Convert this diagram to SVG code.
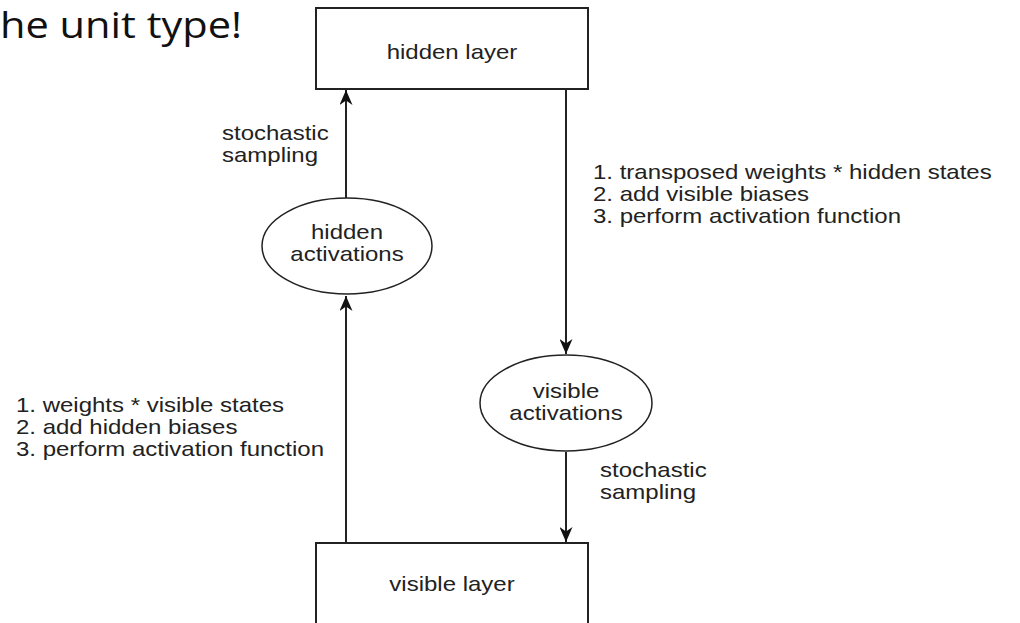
<svg xmlns="http://www.w3.org/2000/svg" width="1020" height="623" viewBox="0 0 1020 623">
<style>
.box{fill:#fff;stroke:#222;stroke-width:2}
.ell{fill:#fff;stroke:#222;stroke-width:1.5}
.lbl{font-family:"Liberation Sans",Arial,sans-serif;font-size:20px;fill:#222}
.c{text-anchor:middle}
.edge{stroke:#222;stroke-width:2;fill:none}
</style>
<defs>
<marker id="arr" viewBox="0 0 15 13" refX="15" refY="6.5" markerWidth="15" markerHeight="13" markerUnits="userSpaceOnUse" orient="auto">
<path d="M0,0 L15,6.5 L0,13 L4.5,6.5 Z" fill="#111"/>
</marker>
</defs>
<rect width="1020" height="623" fill="#fff"/>
<text x="0" y="38" textLength="242" lengthAdjust="spacingAndGlyphs" style="font-family:'Open Sans','Liberation Sans',sans-serif;font-size:37px;fill:#111">he unit type!</text>
<g id="connectors">
<line class="edge" x1="346" y1="198" x2="346" y2="90" marker-end="url(#arr)"/>
<line class="edge" x1="346" y1="543" x2="346" y2="296" marker-end="url(#arr)"/>
<line class="edge" x1="566" y1="89" x2="566" y2="354" marker-end="url(#arr)"/>
<line class="edge" x1="566" y1="452" x2="566" y2="542" marker-end="url(#arr)"/>
</g>
<g id="hidden-layer">
<rect class="box" x="316" y="8" width="272" height="81"/>
<text class="lbl c" transform="translate(452,59) scale(1.2,1)">hidden layer</text>
</g>
<g id="hidden-activations">
<ellipse class="ell" cx="347" cy="246" rx="85" ry="48"/>
<text class="lbl c" transform="translate(347,239) scale(1.2,1)">hidden</text>
<text class="lbl c" transform="translate(347,261) scale(1.2,1)">activations</text>
</g>
<g id="visible-activations">
<ellipse class="ell" cx="566" cy="403" rx="86" ry="48"/>
<text class="lbl c" transform="translate(566,398) scale(1.2,1)">visible</text>
<text class="lbl c" transform="translate(566,420) scale(1.2,1)">activations</text>
</g>
<g id="visible-layer">
<rect class="box" x="316" y="543" width="272" height="90"/>
<text class="lbl c" transform="translate(452,591) scale(1.2,1)">visible layer</text>
</g>
<g id="labels">
<text class="lbl" transform="translate(222,140) scale(1.2,1)">stochastic</text>
<text class="lbl" transform="translate(222,162) scale(1.2,1)">sampling</text>
<text class="lbl" transform="translate(593,179) scale(1.2,1)">1. transposed weights * hidden states</text>
<text class="lbl" transform="translate(593,201) scale(1.2,1)">2. add visible biases</text>
<text class="lbl" transform="translate(593,223) scale(1.2,1)">3. perform activation function</text>
<text class="lbl" transform="translate(16,412) scale(1.2,1)">1. weights * visible states</text>
<text class="lbl" transform="translate(16,434) scale(1.2,1)">2. add hidden biases</text>
<text class="lbl" transform="translate(16,456) scale(1.2,1)">3. perform activation function</text>
<text class="lbl" transform="translate(600,477) scale(1.2,1)">stochastic</text>
<text class="lbl" transform="translate(600,499) scale(1.2,1)">sampling</text>
</g>
</svg>
